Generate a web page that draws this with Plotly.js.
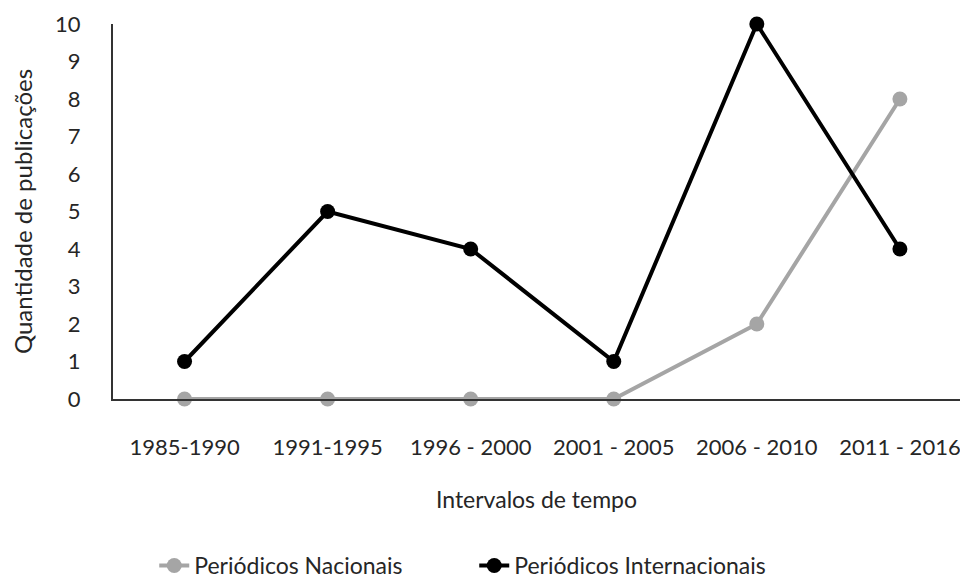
<!DOCTYPE html>
<html><head><meta charset="utf-8">
<script src="https://cdn.plot.ly/plotly-3.0.1.min.js"></script>
<style>body{margin:0;background:#fff}#c{width:960px;height:583px}</style>
</head><body><div id="c"></div>
<script>
const categories = ["1985-1990","1991-1995","1996 - 2000","2001 - 2005","2006 - 2010","2011 - 2016"];
const nacionais = [0,0,0,0,2,8];
const internacionais = [1,5,4,1,10,4];
const yTicks = [0,1,2,3,4,5,6,7,8,9,10];

const F = "Lato, 'Open Sans', sans-serif";
const traces = [
  {x: categories, y: nacionais, name: "Periódicos Nacionais", type: "scatter", mode: "lines+markers",
   line: {color: "#a5a5a5", width: 4}, marker: {color: "#a5a5a5", size: 15}, cliponaxis: false},
  {x: categories, y: internacionais, name: "Periódicos Internacionais", type: "scatter", mode: "lines+markers",
   line: {color: "#000000", width: 4}, marker: {color: "#000000", size: 15}, cliponaxis: false}
];
const layout = {
  width: 960, height: 583,
  margin: {l: 113, r: 0, t: 24, b: 184},
  paper_bgcolor: "#fff", plot_bgcolor: "#fff",
  font: {family: F, size: 22, color: "#262626"},
  showlegend: true,
  legend: {orientation: "h", xref: "container", yref: "container", x: 0.494, xanchor: "center",
           y: 0.03, yanchor: "middle", font: {size: 23, color: "#262626"}, traceorder: "normal",
           entrywidth: 275},
  xaxis: {type: "category", range: [-0.5, 5.42], showgrid: false, zeroline: false,
          showline: true, linecolor: "#333", linewidth: 2, ticks: "", ticklabelstandoff: 28,
          tickfont: {size: 22}, automargin: false,
          title: {text: "Intervalos de tempo", font: {size: 23}, standoff: 32}},
  yaxis: {range: [0, 10], tickvals: yTicks, showgrid: false, zeroline: false,
          showline: true, linecolor: "#333", linewidth: 2, ticks: "", ticklabelstandoff: 26,
          tickfont: {size: 22}, automargin: false,
          title: {text: "Quantidade de publicações", font: {size: 24}, standoff: 16}}
};
Plotly.newPlot("c", traces, layout, {displayModeBar: false});
</script></body></html>
